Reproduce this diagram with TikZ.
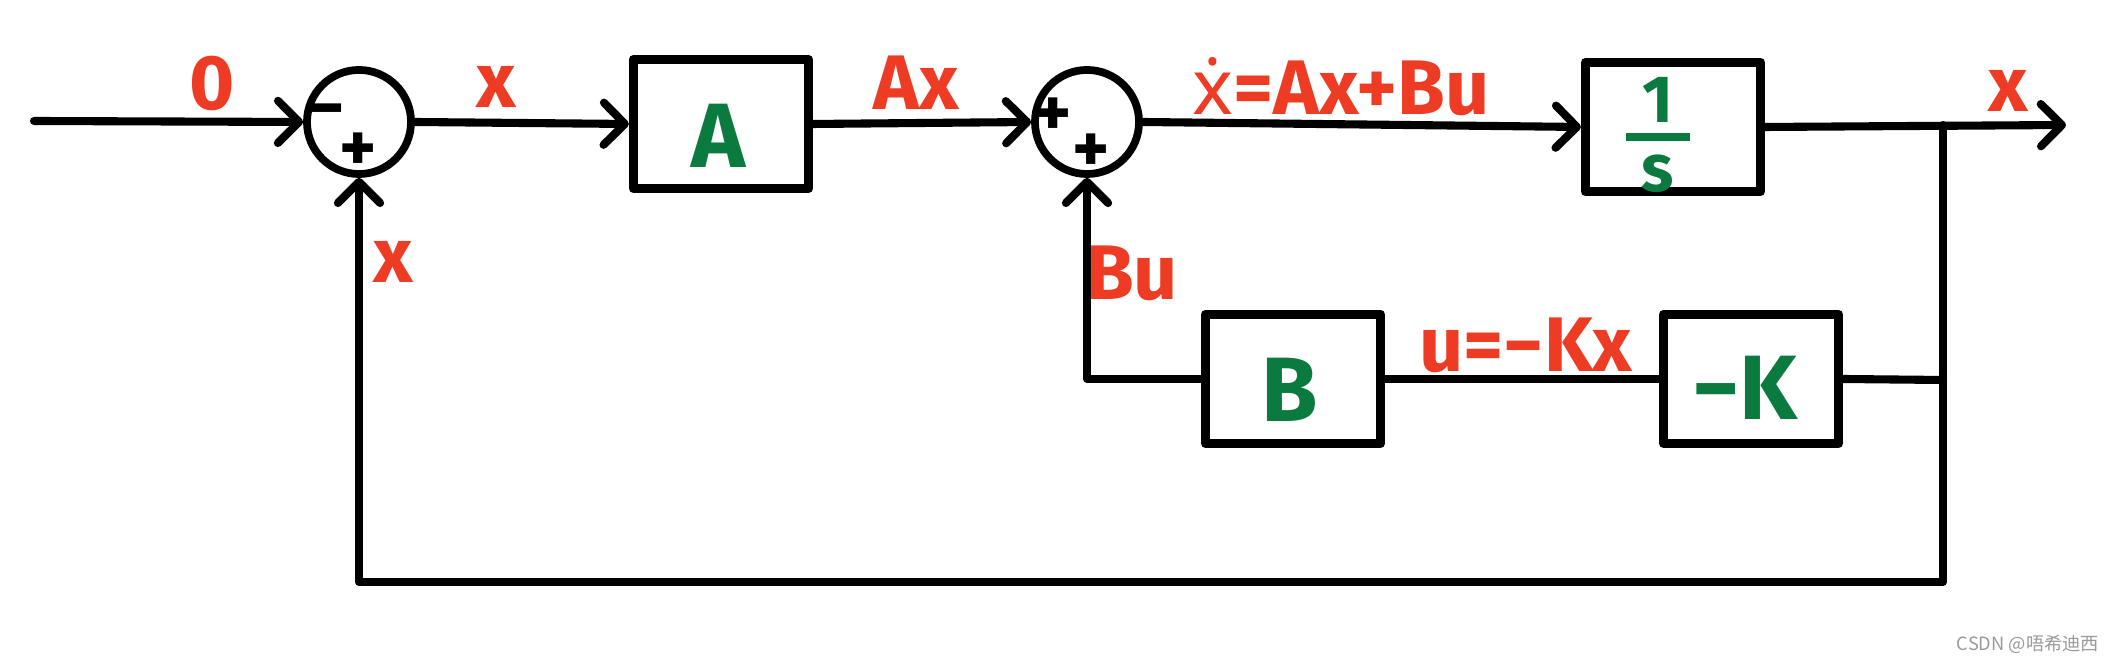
\documentclass[tikz,border=0pt]{standalone}
\usepackage{fontspec}
\setmainfont{Fira Sans}
\newfontfamily\cjkfont{Noto Sans CJK SC}
\newfontfamily\notofont{Noto Sans}
\usetikzlibrary{arrows.meta}
\definecolor{lblred}{HTML}{EE3B24}
\definecolor{lblgreen}{HTML}{0B7A3E}
\definecolor{wmgray}{HTML}{9A9A9A}
\begin{document}
\begin{tikzpicture}[x=0.01cm,y=-0.01cm,
  wire/.style={line width=2.3pt, line cap=round, line join=round},
  arr/.style={wire, -{Straight Barb[length=6pt,width=12pt,round]}},
  blk/.style={draw, line width=2.6pt, line join=round, minimum width=1.75cm, minimum height=1.29cm, inner sep=0pt},
  gtxt/.style={font=\fontsize{26}{28}\selectfont\bfseries, text=lblgreen, inner sep=0pt, anchor=base},
  sumnode/.style={draw, circle, line width=2.2pt, minimum size=1.04cm, inner sep=0pt},
  sig/.style={font=\fontsize{20}{20}\selectfont\bfseries, inner sep=0pt},
  lbl/.style={font=\fontsize{22}{24}\selectfont\bfseries, text=lblred, inner sep=0pt, anchor=base}]
\path[use as bounding box] (0,0) rectangle (2113,665);
% blocks
\node[sumnode] (s1) at (359,122) {};
\node[sumnode] (s2) at (1087,122) {};
\node[blk] (A) at (721,124) {};
\node[blk] (I) at (1673,127) {};
\node[blk] (B) at (1293,379) {};
\node[blk] (K) at (1751,379) {};
% block texts
\node[gtxt] (tA) at (718,168) {A};
\node[gtxt] (tB) at (1290,422) {B};
\node[gtxt] (tK) at (1745,420) {−K};
\node[font=\fontsize{19}{19}\selectfont\bfseries, text=lblgreen, inner sep=0pt] (tI) at (1658,135)
  {\shortstack{1\\\rule{18pt}{2.3pt}\\[1pt]s}};
% signs
\node[sig] (m1) at (327,118) {−};
\node[sig] (p1) at (358,152) {+};
\node[sig] (p2) at (1053,117) {+};
\node[sig] (p3) at (1091,153) {+};
% coordinates
\coordinate (in) at (34,121);
\coordinate (out) at (2066,125);
\coordinate (j1) at (1943,125);
\coordinate (j2) at (1943,380);
\coordinate (bl) at (1943,582);
% connectors
\draw[arr] (in) -- (s1.west);
\draw[arr] (s1.east) -- (A.west);
\draw[arr] (A.east) -- (s2.west);
\draw[arr] (s2.east) -- (I.west);
\draw[arr] (I.east) -- (out);
\draw[arr] (j1) -- (bl) -- (s1 |- bl) -- (s1.south);
\draw[wire] (j2) -- (K.east);
\draw[wire] (K.west) -- (B.east);
\draw[arr] (B.west) -- (s2 |- B.west) -- (s2.south);
% labels
\node[lbl] (l0) at (212,110) {0};
\node[lbl] (lx1) at (496,108) {x};
\node[lbl] (lAx) at (916,110) {Ax};
\node[lbl] (lxd) at (1341,115) {{\notofont\bfseries ẋ}=Ax+Bu};
\node[lbl] (lxo) at (2008,112) {x};
\node[lbl] (lBu) at (1132,300) {Bu};
\node[lbl] (lu) at (1526,372) {u=−Kx};
\node[lbl] (lxf) at (393,283) {x};
% watermark
\node[font=\cjkfont\fontsize{5.2}{6}\selectfont, text=wmgray, inner sep=0pt, anchor=base] (wm) at (2028,651) {CSDN @唔希迪西};
\end{tikzpicture}
\end{document}
